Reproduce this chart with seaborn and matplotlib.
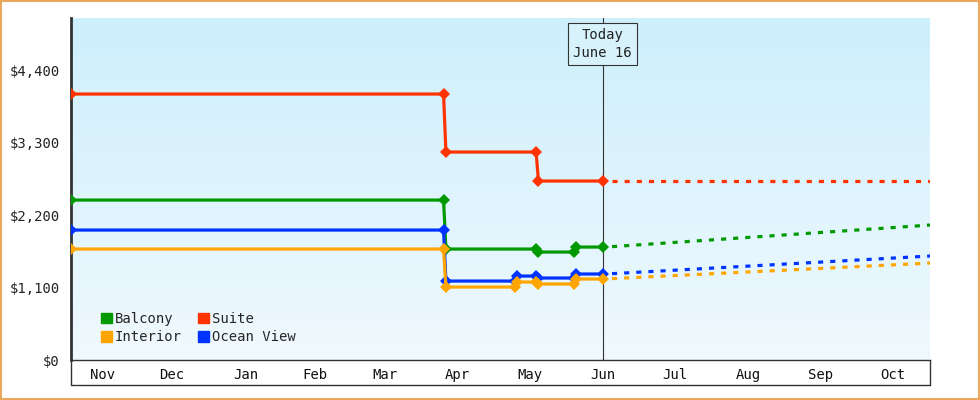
import numpy as np, pandas as pd
import matplotlib
matplotlib.use("Agg")
import matplotlib.pyplot as plt
import matplotlib.dates as mdates
import matplotlib.patches as mpatches
import seaborn as sns
from matplotlib.colors import LinearSegmentedColormap

sns.set_style("white")
plt.rcParams['font.family'] = ['DejaVu Sans Mono']

series = ["Balcony", "Interior", "Suite", "Ocean View"]
colors = {"Balcony": "#009900", "Interior": "#ffa500", "Suite": "#ff3300", "Ocean View": "#0033ff"}

hist_dates = {
    "Suite":      ["2024-11-04", "2025-04-10", "2025-04-11", "2025-05-19", "2025-05-20", "2025-06-16"],
    "Balcony":    ["2024-11-04", "2025-04-10", "2025-04-11", "2025-05-19", "2025-05-20", "2025-06-04", "2025-06-05", "2025-06-16"],
    "Ocean View": ["2024-11-04", "2025-04-10", "2025-04-11", "2025-05-10", "2025-05-11", "2025-05-19", "2025-05-20", "2025-06-04", "2025-06-05", "2025-06-16"],
    "Interior":   ["2024-11-04", "2025-04-10", "2025-04-11", "2025-05-10", "2025-05-11", "2025-05-19", "2025-05-20", "2025-06-04", "2025-06-05", "2025-06-16"],
}
hist_values = {
    "Suite":      [4036, 4036, 3156, 3156, 2716, 2716],
    "Balcony":    [2427, 2427, 1684, 1684, 1638, 1638, 1714, 1714],
    "Ocean View": [1972, 1972, 1198, 1198, 1274, 1274, 1244, 1244, 1305, 1305],
    "Interior":   [1684, 1684, 1107, 1107, 1183, 1183, 1153, 1153, 1229, 1229],
}
fc_dates = ["2025-06-20", "2025-11-01"]
fc_values = {"Suite": [2716, 2716], "Balcony": [1720, 2048], "Ocean View": [1310, 1578], "Interior": [1235, 1471]}

yticks = [0, 1100, 2200, 3300, 4400]
ytick_labels = ["$0", "$1,100", "$2,200", "$3,300", "$4,400"]
months = ["Nov", "Dec", "Jan", "Feb", "Mar", "Apr", "May", "Jun", "Jul", "Aug", "Sep", "Oct"]
today = "2025-06-16"

fig = plt.figure(figsize=(9.8, 4), dpi=100)
ax = fig.add_axes([71/980, 40/400, 859/980, 342/400])
x0, x1 = mdates.date2num(pd.Timestamp("2024-11-04")), mdates.date2num(pd.Timestamp("2025-11-01"))
ymax = 5190
grad = np.linspace(0, 1, 256).reshape(-1, 1)
cmap = LinearSegmentedColormap.from_list("bg", ["#f0f9fe", "#cdeffc"])
ax.imshow(grad, extent=[x0, x1, 0, ymax], origin="lower", aspect="auto", cmap=cmap, zorder=0)

for s in ["Suite", "Balcony", "Ocean View", "Interior"]:
    df = pd.DataFrame({"date": pd.to_datetime(hist_dates[s]), "v": hist_values[s]})
    sns.lineplot(data=df, x="date", y="v", ax=ax, color=colors[s], lw=2.3, marker="D",
                 markersize=6.5, markeredgewidth=0, sort=False, zorder=3)
    fdf = pd.DataFrame({"date": pd.to_datetime(fc_dates), "v": fc_values[s]})
    sns.lineplot(data=fdf, x="date", y="v", ax=ax, color=colors[s], lw=2.3,
                 linestyle=(0, (1.6, 2.2)), zorder=3)

t = pd.Timestamp(today)
ax.axvline(t, color="#333333", lw=0.8, zorder=2)
ax.text(t, ymax - 150, "Today\nJune 16", ha="center", va="top", fontsize=10, color="#222222",
        linespacing=1.4, zorder=5,
        bbox=dict(boxstyle="square,pad=0.35", fc="#d8f2fc", ec="#333333", lw=0.8))

ax.set_xlim(x0, x1)
ax.set_ylim(0, ymax)
ax.set_xlabel(""); ax.set_ylabel("")
ax.set_yticks(yticks)
ax.set_yticklabels(ytick_labels, fontsize=10, color="#222222")
ax.tick_params(axis="y", direction="out", length=6, width=2, color="#333333", pad=2)

mstarts = pd.date_range("2024-12-01", "2025-10-01", freq="MS")
ax.set_xticks(mdates.date2num(mstarts))
ax.set_xticklabels([])
ax.tick_params(axis="x", which="major", direction="out", length=25, width=1, color="#333333")
allb = [x0] + list(mdates.date2num(mstarts)) + [x1]
mids = [(allb[i] + allb[i+1]) / 2 for i in range(12)]
ax.set_xticks(mids, minor=True)
ax.set_xticklabels(months, minor=True, fontsize=10, color="#111111")
ax.tick_params(axis="x", which="minor", length=0, pad=6)

for sp in ["top", "right"]:
    ax.spines[sp].set_visible(False)
ax.spines["left"].set_linewidth(2); ax.spines["left"].set_color("#333333")
ax.spines["bottom"].set_linewidth(1); ax.spines["bottom"].set_color("#333333")
fig.add_artist(plt.Line2D([71/980, 930/980], [15/400, 15/400], color="#333333", lw=1))
fig.add_artist(plt.Line2D([71/980, 71/980], [15/400, 40/400], color="#333333", lw=1))
fig.add_artist(plt.Line2D([930/980, 930/980], [15/400, 40/400], color="#333333", lw=1))

handles = [mpatches.Patch(color=colors[s], label=s) for s in series]
ax.legend(handles=handles, loc="lower left", ncol=2, frameon=False, fontsize=10,
          handlelength=0.8, handleheight=0.8, handletextpad=0.2, columnspacing=1.2,
          labelspacing=0.3, bbox_to_anchor=(0.02, 0.01))

fig.add_artist(mpatches.Rectangle((0.001, 0.002), 0.998, 0.996, transform=fig.transFigure,
                                  fill=False, ec="#e8a860", lw=1.5))
fig.savefig("out.png", dpi=100)
